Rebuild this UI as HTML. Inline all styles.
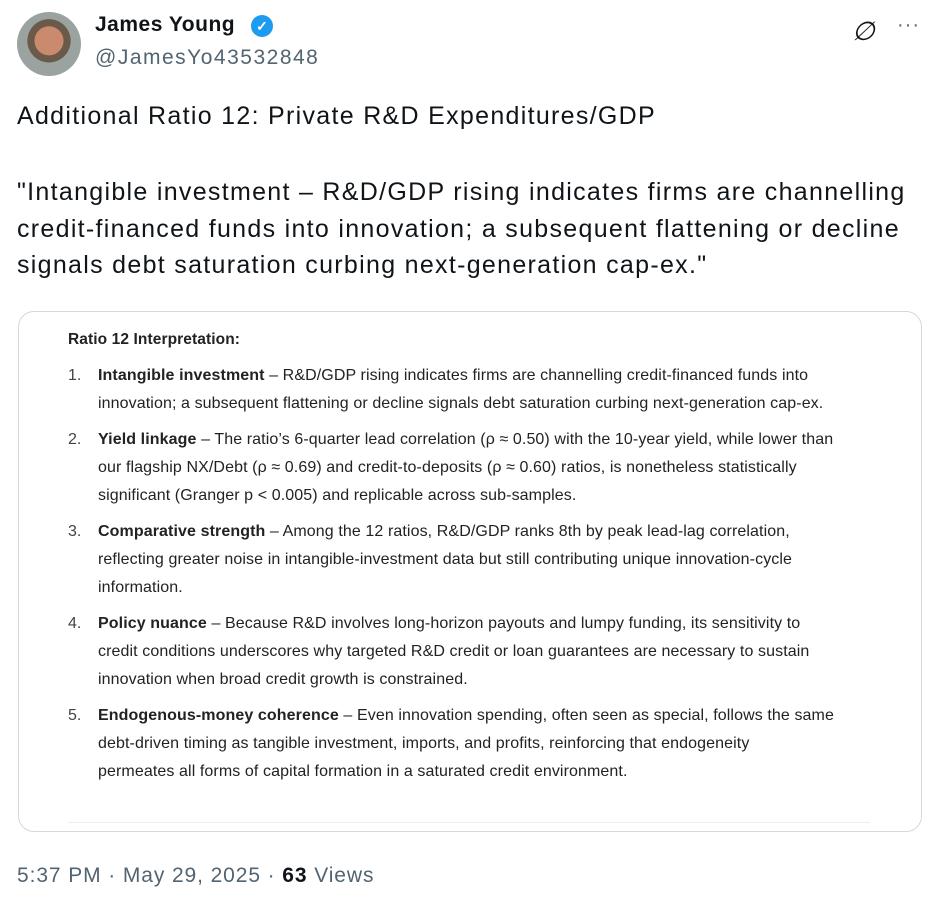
<!DOCTYPE html>
<html><head><meta charset="utf-8"><style>
body{margin:0;width:938px;height:900px;background:#fff;font-family:"Liberation Sans",sans-serif;color:#0f1419;position:relative;overflow:hidden}
.abs{position:absolute}
.tw{left:17px;font-size:25px;line-height:36.5px;white-space:nowrap;letter-spacing:1.3px}
.card{left:18px;top:311px;width:904px;height:521px;border:1px solid #cfd9de;border-radius:16px;box-sizing:border-box}
.ln{font-size:16px;line-height:28px;white-space:nowrap;color:#222;letter-spacing:0.1px}
.num{left:68px;font-size:16px;line-height:28px;color:#444}
</style></head><body>
<div class="abs" style="left:17px;top:12px;width:64px;height:64px;border-radius:50%;background:radial-gradient(circle at 50% 45%,#c98a6e 0 30%,#6b5a4a 31% 45%,#9aa3a0 46%);"></div>
<div class="abs" style="left:95px;top:13px;font-size:21px;font-weight:bold;letter-spacing:0.5px">James Young</div>
<div class="abs" style="left:251px;top:15px;width:22px;height:22px;border-radius:50%;background:#1d9bf0;color:#fff;font-size:14px;text-align:center;line-height:22px;font-weight:bold">✓</div>
<div class="abs" style="left:95px;top:46px;font-size:21px;color:#536471;letter-spacing:1.5px">@JamesYo43532848</div>
<div class="abs" style="left:852px;top:16px;font-size:26px;font-style:italic">∅</div>
<div class="abs" style="left:897px;top:14px;font-size:20px;color:#536471;letter-spacing:1px">···</div>
<div class="abs tw" style="top:98px">Additional Ratio 12: Private R&amp;D Expenditures/GDP</div>
<div class="abs tw" style="top:174px">"Intangible investment – R&amp;D/GDP rising indicates firms are channelling<br>credit-financed funds into innovation; a subsequent flattening or decline<br>signals debt saturation curbing next-generation cap-ex."</div>
<div class="abs card"></div>
<div class="abs ln" style="left:68px;top:326px;font-weight:bold;font-size:15.5px">Ratio 12 Interpretation:</div>
<div class="abs num" style="top:362px">1.</div>
<div class="abs ln" style="left:98px;top:362px"><b>Intangible investment</b> – R&amp;D/GDP rising indicates firms are channelling credit-financed funds into<br>innovation; a subsequent flattening or decline signals debt saturation curbing next-generation cap-ex.</div>
<div class="abs num" style="top:426px">2.</div>
<div class="abs ln" style="left:98px;top:426px"><b>Yield linkage</b> – The ratio’s 6-quarter lead correlation (ρ ≈ 0.50) with the 10-year yield, while lower than<br>our flagship NX/Debt (ρ ≈ 0.69) and credit-to-deposits (ρ ≈ 0.60) ratios, is nonetheless statistically<br>significant (Granger p &lt; 0.005) and replicable across sub-samples.</div>
<div class="abs num" style="top:518px">3.</div>
<div class="abs ln" style="left:98px;top:518px"><b>Comparative strength</b> – Among the 12 ratios, R&amp;D/GDP ranks 8th by peak lead-lag correlation,<br>reflecting greater noise in intangible-investment data but still contributing unique innovation-cycle<br>information.</div>
<div class="abs num" style="top:610px">4.</div>
<div class="abs ln" style="left:98px;top:610px"><b>Policy nuance</b> – Because R&amp;D involves long-horizon payouts and lumpy funding, its sensitivity to<br>credit conditions underscores why targeted R&amp;D credit or loan guarantees are necessary to sustain<br>innovation when broad credit growth is constrained.</div>
<div class="abs num" style="top:702px">5.</div>
<div class="abs ln" style="left:98px;top:702px"><b>Endogenous-money coherence</b> – Even innovation spending, often seen as special, follows the same<br>debt-driven timing as tangible investment, imports, and profits, reinforcing that endogeneity<br>permeates all forms of capital formation in a saturated credit environment.</div>
<div class="abs" style="left:68px;top:822px;width:802px;height:1px;background:#eee"></div>
<div class="abs" style="left:17px;top:864px;font-size:21px;color:#536471;white-space:nowrap;letter-spacing:0.9px">5:37 PM · May 29, 2025 · <b style="color:#0f1419">63</b> Views</div>
</body></html>
